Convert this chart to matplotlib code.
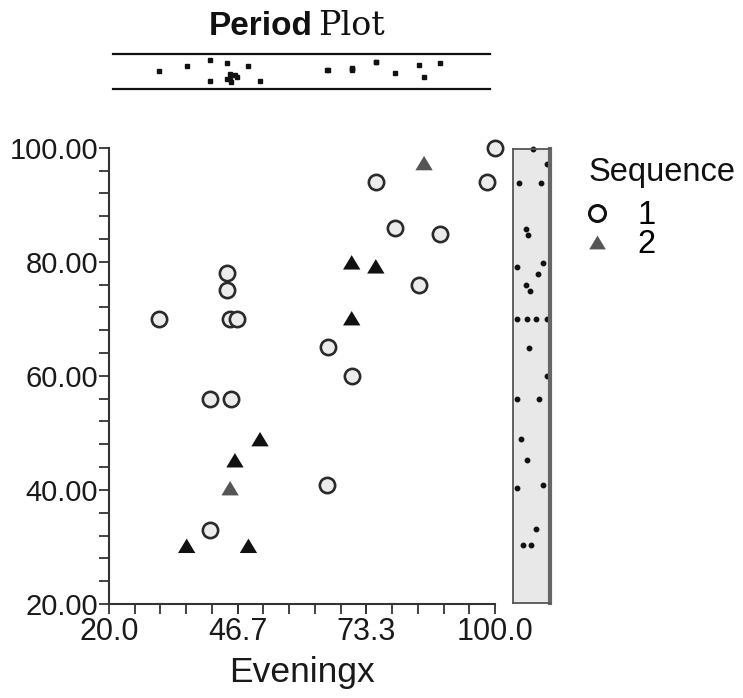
import matplotlib
matplotlib.use('Agg')
import matplotlib.pyplot as plt
from matplotlib.lines import Line2D
import numpy as np

plt.rcParams['font.family'] = ['Liberation Sans', 'DejaVu Sans']

# ---- data ----
seq1_x = [100.0, 75.3, 98.4, 79.3, 88.5, 84.3, 65.3, 30.3, 44.4, 44.4, 45.1, 46.5, 70.3, 40.9, 45.2, 65.1, 40.9]
seq1_y = [100.0, 94.0, 94.0, 85.9, 84.9, 76.0, 65.0, 70.0, 78.0, 75.0, 70.0, 70.0, 60.0, 56.0, 56.0, 40.8, 33.0]
seq2_x = [85.3, 70.3, 75.3, 70.3, 51.3, 46.1, 45.1, 36.1, 48.9]
seq2_y = [97.3, 79.9, 79.2, 70.1, 48.9, 45.2, 40.3, 30.2, 30.2]

# jitter positions of the marginal dot strips (fraction of strip width/height)
side_jitter1 = [0.53, 0.17, 0.76, 0.35, 0.41, 0.34, 0.44, 0.12, 0.67, 0.46, 0.37, 0.61, 0.91, 0.12, 0.69, 0.82, 0.62]
side_jitter2 = [0.91, 0.82, 0.10, 0.91, 0.22, 0.39, 0.12, 0.28, 0.48]
top_jitter1 = [0.50, 0.23, 0.50, 0.54, 0.26, 0.31, 0.45, 0.47, 0.25, 0.72, 0.55, 0.65, 0.38, 0.16, 0.78, 0.45, 0.75]
top_jitter2 = [0.66, 0.42, 0.23, 0.46, 0.75, 0.60, 0.70, 0.33, 0.33]

x_ticks = [20.0, 46.7, 73.3, 100.0]
x_ticklabels = ['20.0', '46.7', '73.3', '100.0']
y_ticks = [20, 40, 60, 80, 100]
y_ticklabels = ['20.00', '40.00', '60.00', '80.00', '100.00']
legend_title = 'Sequence'
legend_labels = ['1', '2']
x_label = 'Eveningx'

W, H = 743, 698
fig = plt.figure(figsize=(W / 100, H / 100), dpi=100)

def fx(px):
    return px / W

def fy(py):
    return 1 - py / H

# ---- main axes ----
L, R, T, B = 109, 495, 147.7, 604
ax = fig.add_axes([fx(L), fy(B), fx(R - L), (B - T) / H])
ax.set_xlim(20, 100)
ax.set_ylim(20, 100)
for s in ['top', 'right']:
    ax.spines[s].set_visible(False)
for s in ['left', 'bottom']:
    ax.spines[s].set_color('#333333')
    ax.spines[s].set_linewidth(1.5)

ax.set_xticks(x_ticks)
ax.set_xticklabels(x_ticklabels)
ax.set_xticks(np.linspace(20, 100, 16), minor=True)
ax.set_yticks(y_ticks)
ax.set_yticklabels(y_ticklabels)
ax.set_yticks(np.arange(20, 101, 4), minor=True)
ax.tick_params(which='both', direction='out', length=7, width=1.3, color='#333333')
ax.tick_params(axis='y', which='major', labelsize=21, labelcolor='#1a1a1a', pad=1)
ax.tick_params(axis='x', which='major', labelsize=22, labelcolor='#1a1a1a', pad=2)
ax.set_xlabel(x_label, fontsize=25.5, color='#1a1a1a', labelpad=7)

tri = [(-1, -0.83), (1, -0.83), (0, 0.83), (-1, -0.83)]
ax.plot(seq1_x, seq1_y, linestyle='none', marker='o', ms=11, mew=1.9,
        mec='#2a2a2a', mfc='#ececec', clip_on=False, zorder=3)
tri_colors = ['#555555' if i in (0, 6) else '#111111' for i in range(len(seq2_x))]
ax.scatter(seq2_x, seq2_y, marker=tri, s=12.5 ** 2, c=tri_colors,
           linewidths=0, clip_on=False, zorder=3)

# ---- right marginal strip (y values) ----
sl, sr, st, sb = 513, 550, 149, 603
axs = fig.add_axes([fx(sl), fy(sb), fx(sr - sl), (sb - st) / H])
axs.set_facecolor('#e8e8e8')
axs.set_xlim(0, 1)
axs.set_ylim(20, 100)
axs.set_xticks([])
axs.set_yticks([])
for s in axs.spines.values():
    s.set_color('#555555')
    s.set_linewidth(1.3)
axs.spines['right'].set_linewidth(3)
axs.spines['right'].set_color('#666666')
axs.plot(side_jitter1 + side_jitter2, seq1_y + seq2_y, linestyle='none', marker='o',
         ms=3.2, color='#111111', clip_on=False)

# ---- top marginal strip (x values) ----
tt, tb = 54.3, 89.3
axt = fig.add_axes([fx(L), fy(tb), fx(R - L), (tb - tt) / H])
axt.set_xlim(20, 100)
axt.set_ylim(0, 1)
axt.axis('off')
x0 = (113 - L) / (R - L)
x1 = (490 - L) / (R - L)
axt.axhline(1, xmin=x0, xmax=x1, color='#111111', lw=1.6, clip_on=False)
axt.axhline(0, xmin=x0, xmax=x1, color='#111111', lw=1.6, clip_on=False)
tx = np.array(seq1_x + seq2_x)
ty = 1 - np.array(top_jitter1 + top_jitter2)
keep = tx < 95  # the two rightmost values are not drawn in the reference strip
axt.plot(tx[keep], ty[keep], linestyle='none', marker='s', ms=2.6, color='#111111')

# ---- title ----
fig.text(fx(209), fy(35), 'Period', fontsize=24, fontweight='bold', color='#111111',
         ha='left', va='baseline')
fig.text(fx(318), fy(35), 'Plot', fontsize=24, family='DejaVu Serif', color='#111111',
         ha='left', va='baseline')

# ---- legend ----
fig.text(fx(589), fy(172), legend_title, fontsize=23.5, color='#111111',
         ha='left', va='center')
handles = [
    Line2D([], [], linestyle='none', marker='o', ms=11.5, mew=2.2, mec='#111111', mfc='white'),
    Line2D([], [], linestyle='none', marker=tri, ms=12, mew=0, mfc='#555555'),
]
leg = fig.legend(handles, legend_labels, loc='upper left',
                 bbox_to_anchor=(fx(587), fy(200)), frameon=False, fontsize=23.5,
                 handlelength=0.6, handletextpad=0.95,
                 labelspacing=-0.05, borderpad=0, borderaxespad=0)

fig.savefig('out.png', dpi=100)
